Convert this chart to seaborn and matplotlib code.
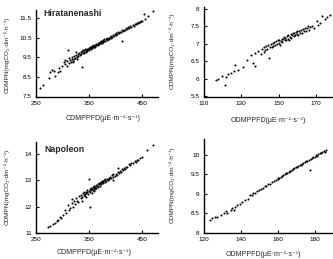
import matplotlib
matplotlib.use('Agg')
import matplotlib.pyplot as plt
from matplotlib.ticker import FormatStrFormatter
import seaborn as sns

sns.set_style('white')
plt.rcParams['font.family'] = ['Liberation Sans', 'DejaVu Sans']

# Hiratanenashi, CDM
hira_x = [258, 263, 274, 276, 280, 283, 286, 291, 294, 296, 299, 302, 304, 305, 308, 309, 311, 312, 313,
          315, 316, 317, 318, 319, 320, 321, 322, 324, 325, 326, 327, 328, 329, 330, 331, 333, 334, 335, 336,
          337, 338, 339, 340, 341, 342, 343, 344, 345, 346, 347, 348, 349, 350, 351, 352, 353, 354, 355, 356,
          357, 358, 359, 360, 361, 362, 363, 364, 365, 366, 367, 368, 369, 370, 371, 372, 373, 374, 375, 376,
          377, 378, 379, 380, 382, 383, 384, 386, 387, 388, 390, 391, 392, 394, 395, 397, 398, 400, 401, 403,
          404, 406, 408, 410, 412, 413, 414, 416, 418, 420, 422, 424, 426, 428, 430, 432, 434, 436, 438, 440,
          442, 444, 446, 448, 450, 453, 455, 462, 470]
hira_y = [7.94, 8.06, 8.43, 8.73, 8.85, 8.82, 8.56, 8.73, 8.95, 8.82, 9.07, 9.24, 9.35, 9.15, 9.32, 9.05, 9.86, 9.45, 9.2,
          9.38, 9.25, 9.40, 9.5, 9.28, 9.3, 9.42, 9.55, 9.48, 9.75, 9.6, 9.5, 9.4, 9.66, 9.58, 9.7, 9.62, 9.75, 9.68, 9.0,
          9.8, 9.7, 9.85, 9.76, 9.72, 9.84, 9.9, 9.78, 9.86, 9.94, 9.82, 9.9, 9.98, 9.88, 9.95, 10.02, 9.92, 10.0, 10.06, 9.96,
          10.04, 10.1, 10.0, 10.08, 10.14, 10.04, 10.12, 10.18, 10.1, 10.2, 10.13, 10.24, 10.16, 10.22, 10.28, 10.2, 10.3, 10.24, 10.34, 10.26,
          10.36, 10.3, 10.4, 10.34, 10.42, 10.36, 10.46, 10.4, 10.5, 10.44, 10.54, 10.48, 10.58, 10.52, 10.62, 10.6, 10.68, 10.64, 10.72, 10.68,
          10.76, 10.72, 10.8, 10.78, 10.86, 10.3, 10.82, 10.9, 10.88, 10.96, 10.92, 11.02, 10.98, 11.08, 11.05, 11.14, 11.1, 11.2, 11.18, 11.26,
          11.22, 11.3, 11.28, 11.36, 11.34, 11.69, 11.45, 11.6, 11.85]

# Hiratanenashi, ODM
hira_od_x = [116.6, 117.6, 120.1, 121.2, 122.0, 123.3, 124.6, 126.0, 126.9, 128.6, 131.3, 133.0, 135.4, 136.5, 137.5,
             137.2, 139.3, 140.5, 141.0, 142.0, 142.5, 143.0, 143.5, 144.0, 144.5, 145.0, 145.2, 145.8, 146.3, 146.8,
             147.2, 147.7, 148.2, 148.6, 149.0, 149.5, 150.0, 150.4, 150.8, 151.2, 151.6, 152.0, 152.4, 152.8, 153.2,
             153.6, 154.0, 154.4, 154.8, 155.2, 155.6, 156.0, 156.4, 156.8, 157.2, 157.6, 158.0, 158.4, 158.8, 159.2,
             159.6, 160.0, 160.5, 161.0, 161.5, 162.0, 162.5, 163.0, 163.5, 164.0, 164.5, 165.0, 165.5, 166.0, 167.0,
             168.0, 169.0, 170.4, 171.0, 172.0, 173.1, 174.5, 176.0, 177.5]
hira_od_y = [5.98, 5.99, 6.07, 5.84, 6.06, 6.15, 6.17, 6.23, 6.41, 6.25, 6.34, 6.55, 6.68, 6.46, 6.36,
             6.73, 6.80, 6.72, 6.85, 6.78, 6.90, 6.82, 6.95, 6.86, 6.98, 6.61, 6.90, 7.00, 6.92, 7.02,
             6.95, 7.06, 6.98, 7.08, 7.00, 7.10, 7.03, 7.12, 6.98, 7.08, 7.15, 7.05, 7.14, 7.20, 7.10,
             7.18, 7.12, 7.22, 7.15, 7.24, 7.10, 7.20, 7.28, 7.18, 7.26, 7.32, 7.22, 7.30, 7.24, 7.34,
             7.28, 7.36, 7.26, 7.38, 7.32, 7.40, 7.30, 7.42, 7.36, 7.46, 7.38, 7.44, 7.50, 7.40, 7.48,
             7.52, 7.46, 7.64, 7.55, 7.60, 7.80, 7.70, 7.76, 7.82]

# Napoleon, CDM
napo_x = [272, 276, 282, 286, 290, 292, 295, 298, 301, 304, 307, 310, 313, 315, 317, 318, 320, 322, 324, 326, 328, 330,
          332, 334, 335, 336, 337, 338, 340, 341, 342, 343, 344, 345, 345, 346, 347, 348, 349, 350, 351, 352, 352, 353,
          354, 355, 356, 357, 358, 359, 360, 360, 361, 362, 363, 364, 365, 366, 367, 368, 369, 370, 371, 372, 373,
          374, 375, 376, 377, 378, 380, 381, 382, 384, 385, 387, 388, 390, 392, 393, 395, 396, 396, 398, 400, 402,
          404, 405, 406, 408, 410, 412, 414, 416, 418, 420, 422, 425, 428, 430, 433, 436, 438, 440, 443, 446, 450,
          459, 470]
napo_y = [11.24, 11.27, 11.33, 11.39, 11.45, 11.5, 11.6, 11.58, 11.68, 11.87, 11.75, 12.06, 11.87, 11.95, 12.13, 12.28, 12.0, 12.2, 12.1, 12.32, 12.22, 12.19,
          12.4, 12.32, 12.45, 12.22, 12.38, 12.5, 12.44, 12.55, 12.48, 12.4, 12.56, 12.5, 12.35, 12.62, 12.54, 12.46, 13.03, 12.6, 12.66, 12.56, 11.97, 12.7,
          12.62, 12.52, 12.68, 12.74, 12.64, 12.72, 12.78, 12.6, 12.68, 12.76, 12.82, 12.72, 12.8, 12.86, 12.76, 12.84, 12.9, 12.8, 12.88, 12.94, 12.84,
          12.92, 12.98, 12.88, 12.96, 13.02, 12.94, 13.04, 12.98, 13.06, 13.0, 13.1, 13.04, 13.12, 13.08, 13.18, 13.14, 13.22, 13.0, 13.16, 13.24, 13.2,
          13.3, 13.45, 13.26, 13.36, 13.32, 13.42, 13.38, 13.46, 13.44, 13.52, 13.5, 13.6, 13.58, 13.66, 13.64, 13.72, 13.7, 13.78, 13.76, 13.84, 13.88,
          14.15, 14.34]

# Napoleon, ODM
napo_od_x = [123.5, 124.7, 126.1, 127.4, 129.2, 131.0, 131.9, 132.5, 134.6, 135.5, 136.5, 137.0, 138.2, 139.5, 140.9,
             142.7, 144.0, 145, 146, 147, 148, 149, 150, 151, 152, 153, 154, 155, 156, 157, 158, 159, 160, 160.5,
             161, 162, 162.5, 163, 164, 164.5, 165, 166, 166.5, 167, 168, 168.5, 169, 170, 170.5, 171, 172, 172.5,
             173, 174, 175, 175.5, 176, 177, 177.5, 178, 178.5, 179, 180, 181, 181.5, 182, 183, 183.5, 184, 185,
             185.5, 186]
napo_od_y = [8.32, 8.38, 8.40, 8.42, 8.46, 8.50, 8.55, 8.50, 8.59, 8.63, 8.58, 8.66, 8.72, 8.74, 8.80,
             8.85, 8.88, 8.96, 8.98, 9.02, 9.03, 9.07, 9.09, 9.13, 9.14, 9.19, 9.20, 9.24, 9.26, 9.30, 9.32, 9.36, 9.37, 9.40,
             9.41, 9.44, 9.45, 9.47, 9.50, 9.52, 9.53, 9.56, 9.58, 9.59, 9.62, 9.63, 9.65, 9.68, 9.69, 9.70, 9.73, 9.74,
             9.76, 9.79, 9.82, 9.83, 9.84, 9.87, 9.60, 9.90, 9.91, 9.93, 9.95, 9.99, 9.97, 10.02, 10.04, 10.03, 10.07, 10.09,
             10.06, 10.11]

cdm_xlabel = 'CDMPPFD(\u03bcE\u00b7m\u207b\u00b2\u00b7s\u207b\u00b9)'
cdm_ylabel = 'CDMPN(mgCO\u2082\u00b7dm\u207b\u00b2\u00b7h\u207b\u00b9)'
odm_xlabel = 'ODMPPFD(\u03bcE\u00b7m\u207b\u00b2\u00b7s\u207b\u00b9)'
odm_ylabel = 'ODMPN(mgCO\u2082\u00b7dm\u207b\u00b2\u00b7h\u207b\u00b9)'

W, H = 333, 259
fig = plt.figure(figsize=(W / 100, H / 100), dpi=100)


def box(l, t, r, b):
    return [l / W, 1 - b / H, (r - l) / W, (b - t) / H]


panels = [
    (hira_x, hira_y, box(36, 10, 158, 96.5), (250, 480), (7.5, 11.9),
     [250, 350, 450], [7.5, 8.5, 9.5, 10.5, 11.5], cdm_xlabel, cdm_ylabel, (103, 119), (7, 55)),
    (hira_od_x, hira_od_y, box(203.5, 7, 333, 96.5), (110, 179), (5.5, 8.05),
     [110, 130, 150, 170], [5.5, 6, 6.5, 7, 7.5, 8], odm_xlabel, odm_ylabel, (268, 120), (172, 51)),
    (napo_x, napo_y, box(36, 142, 158, 233), (250, 480), (11, 14.45),
     [250, 350, 450], [11, 12, 13, 14], cdm_xlabel, cdm_ylabel, (94, 253), (7, 187)),
    (napo_od_x, napo_od_y, box(203.5, 139, 333, 233), (120, 190), (8, 10.4),
     [120, 140, 160, 180], [8, 8.5, 9, 9.5, 10], odm_xlabel, odm_ylabel, (263, 255), (172, 185)),
]

for xs, ys, rect, xl, yl, xt, yt, xlab, ylab, xpos, ypos in panels:
    ax = fig.add_axes(rect)
    sns.scatterplot(x=xs, y=ys, ax=ax, color='black', s=2.2, linewidth=0)
    ax.set_xlim(*xl)
    ax.set_ylim(*yl)
    ax.set_xticks(xt)
    ax.set_yticks(yt)
    ax.xaxis.set_major_formatter(FormatStrFormatter('%g'))
    ax.yaxis.set_major_formatter(FormatStrFormatter('%g'))
    ax.tick_params(direction='in', length=2, width=0.8, labelsize=4.6, pad=3,
                   bottom=True, left=True, colors='black')
    for side in ['top', 'right']:
        ax.spines[side].set_visible(False)
    for side in ['left', 'bottom']:
        ax.spines[side].set_color('black')
        ax.spines[side].set_linewidth(1.0)
    fig.text(xpos[0] / W, 1 - xpos[1] / H, xlab, ha='center', va='center', fontsize=5)
    fig.text(ypos[0] / W, 1 - ypos[1] / H, ylab, ha='center', va='center', fontsize=4.6, rotation=90)

fig.text(43 / W, 1 - 13 / H, 'Hiratanenashi', ha='left', va='center', fontsize=6.3, fontweight='bold')
fig.text(44 / W, 1 - 149 / H, 'Napoleon', ha='left', va='center', fontsize=6.3, fontweight='bold')

fig.savefig('out.png', dpi=100)
